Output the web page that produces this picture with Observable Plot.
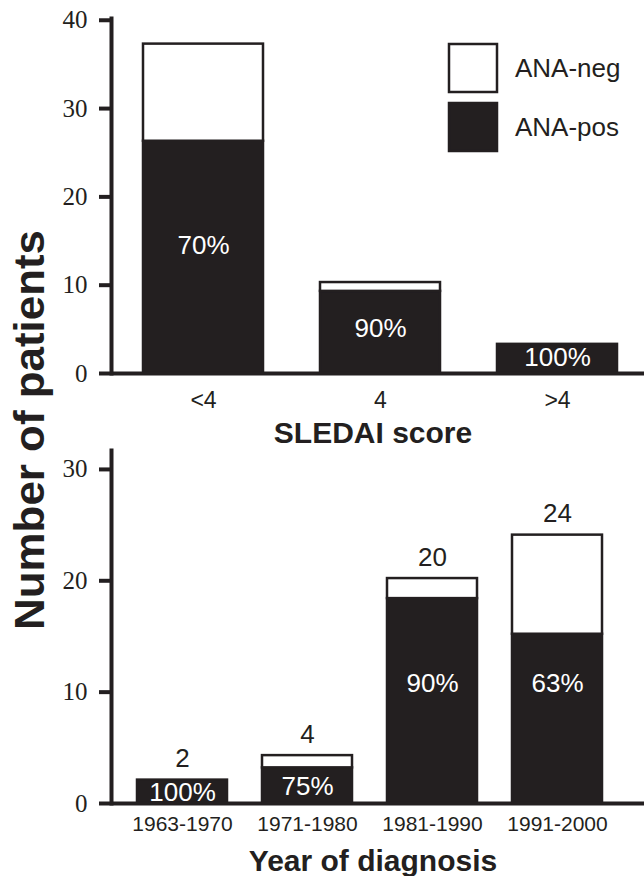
<!DOCTYPE html>
<html><head><meta charset="utf-8">
<script src="https://cdn.jsdelivr.net/npm/d3@7"></script>
<script src="https://cdn.jsdelivr.net/npm/@observablehq/plot@0.6"></script>
<style>
body{margin:0;background:#fff;}
#wrap{position:relative;width:644px;height:876px;overflow:hidden;background:#fff;}
#top,#bot{position:absolute;left:0;}
#top{top:0}
#bot{top:445px}
#overlay{position:absolute;left:0;top:0;}
</style></head><body>
<div id="wrap"><div id="top"></div><div id="bot"></div><svg id="overlay" width="644" height="876"></svg></div>
<script>
const INK = "#231f20";
const SANS = "'Liberation Sans', Arial, sans-serif";
const SERIF = "'Liberation Serif', 'Times New Roman', serif";

const statuses = ["ANA-pos", "ANA-neg"];
const statusColors = [INK, "#ffffff"];
const legendOrder = ["ANA-neg", "ANA-pos"];
const yTitle = "Number of patients";

const sledaiCategories = ["<4", "4", ">4"];
const sledaiPos = [26.3, 9.3, 3.3];
const sledaiNeg = [11.0, 1.0, 0];
const sledaiPct = ["70%", "90%", "100%"];
const sledaiTicks = [0, 10, 20, 30, 40];
const sledaiTitle = "SLEDAI score";

const yearCategories = ["1963-1970", "1971-1980", "1981-1990", "1991-2000"];
const yearPos = [2.1, 3.2, 18.4, 15.2];
const yearNeg = [0, 1.1, 1.8, 8.9];
const yearTotals = ["2", "4", "20", "24"];
const yearPct = ["100%", "75%", "90%", "63%"];
const yearTicks = [0, 10, 20, 30];
const yearTitle = "Year of diagnosis";

function stackRows(cats, pos, neg) {
  const rows = [];
  cats.forEach((c, i) => {
    rows.push({cat: c, status: "ANA-pos", value: pos[i]});
    if (neg[i] > 0) rows.push({cat: c, status: "ANA-neg", value: neg[i]});
  });
  return rows;
}

function panel(o) {
  const rows = stackRows(o.cats, o.pos, o.neg);
  const labels = o.cats.map((c, i) => ({
    cat: c, pos: o.pos[i], total: o.pos[i] + o.neg[i], pct: o.pct[i],
    totalText: o.totals ? o.totals[i] : ""
  }));
  const marks = [
    Plot.barY(rows, {x: "cat", y: "value", fill: "status", stroke: INK, strokeWidth: 2.5}),
    Plot.text(labels, {x: "cat", y: o.pctY, text: "pct", fill: "white", fontSize: 26, fontFamily: SANS}),
    Plot.ruleY([0], {stroke: INK, strokeWidth: 4}),
    Plot.frame({anchor: "left", stroke: INK, strokeWidth: 4}),
    // y ticks (lines only) + custom labels
    Plot.axisY({ticks: o.ticks, tickSize: 12, strokeWidth: 4, tickFormat: () => "", label: null}),
    Plot.text(o.ticks, {y: d => d, frameAnchor: "left", dx: -24, textAnchor: "end",
      text: d => String(d), fontSize: 25, fontFamily: SERIF, fill: INK}),
    // x tick labels
    Plot.axisX({tickSize: 0, tickFormat: () => "", label: null}),
    Plot.text(o.cats, {x: d => d, frameAnchor: "bottom", lineAnchor: "top", dy: o.tickPad,
      text: d => d, fontSize: o.tickFont, fontFamily: SANS, fill: INK}),
    Plot.text([o.title], {frameAnchor: "bottom", lineAnchor: "bottom", dy: o.titleDy, dx: -5, text: d => d,
      fontSize: 30, fontWeight: "bold", fontFamily: SANS, fill: INK})
  ];
  if (o.totals) marks.push(Plot.text(labels, {x: "cat", y: "total", text: "totalText", dy: -21,
    fontSize: 26, fontFamily: SANS, fill: INK}));
  return Plot.plot({
    width: 644, height: o.height, marginTop: o.marginTop, marginBottom: o.marginBottom,
    marginLeft: 111, marginRight: 0,
    x: {domain: o.cats, range: o.xRange, paddingInner: o.padIn, paddingOuter: o.padOut},
    y: {domain: [0, o.yMax]},
    color: {domain: statuses, range: statusColors},
    style: {background: "transparent", color: INK, fontFamily: SANS, overflow: "visible"},
    marks
  });
}

document.getElementById("top").append(panel({
  cats: sledaiCategories, pos: sledaiPos, neg: sledaiNeg, pct: sledaiPct, ticks: sledaiTicks,
  yMax: 40.2, height: 445, marginTop: 18, marginBottom: 72,
  xRange: [113.6, 646], padIn: 0.32, padOut: 0.16, tickFont: 23, tickPad: 18,
  title: sledaiTitle, titleDy: 69, pctY: d => d.pos * 0.55
}));

document.getElementById("bot").append(panel({
  cats: yearCategories, pos: yearPos, neg: yearNeg, pct: yearPct, ticks: yearTicks, totals: yearTotals,
  yMax: 31.7, height: 431, marginTop: 5, marginBottom: 73,
  xRange: [118.5, 619.7], padIn: 0.28, padOut: 0.14, tickFont: 21, tickPad: 13,
  title: yearTitle, titleDy: 67, pctY: d => d.pos > 10 ? 10.8 : d.pos * 0.46
}));

// overlay: shared y title and legend
const ov = d3.select("#overlay");
ov.append("text")
  .attr("transform", "translate(44,430) rotate(-90)")
  .attr("text-anchor", "middle")
  .attr("font-family", SANS).attr("font-weight", "bold").attr("font-size", 42)
  .attr("fill", INK)
  .attr("textLength", 400).attr("lengthAdjust", "spacingAndGlyphs")
  .text(yTitle);

const colorOf = s => statusColors[statuses.indexOf(s)];
const lg = ov.append("g").attr("transform", "translate(448,43)");
legendOrder.forEach((s, i) => {
  lg.append("rect").attr("x", 1).attr("y", i * 59 + 1).attr("width", 48).attr("height", 48)
    .attr("fill", colorOf(s)).attr("stroke", INK).attr("stroke-width", 2.5);
  lg.append("text").attr("x", 67).attr("y", i * 59 + 25).attr("dy", "0.36em")
    .attr("font-family", SANS).attr("font-size", 26).attr("fill", INK).text(s);
});
</script>
</body></html>
